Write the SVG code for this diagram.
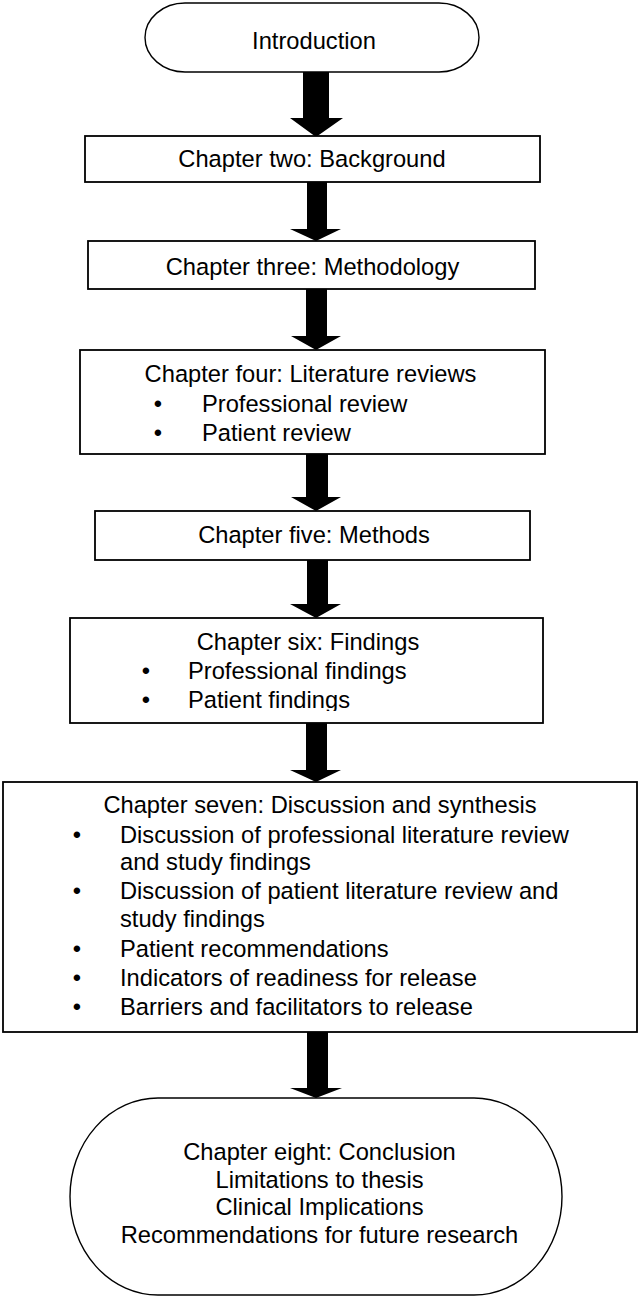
<svg xmlns="http://www.w3.org/2000/svg" width="639" height="1297" viewBox="0 0 639 1297">
  <style>
    .box { fill: #ffffff; stroke: #000000; stroke-width: 1.8; }
    .pill { fill: #ffffff; stroke: #000000; stroke-width: 1.4; }
    .t { font-family: "Liberation Sans", Arial, sans-serif; font-size: 23.7px; fill: #000000; }
    .c { text-anchor: middle; }
    .arrow { fill: #000000; stroke: none; }
  </style>
  <defs>
    <clipPath id="clip-six">
      <rect x="70" y="618" width="473" height="93"/>
    </clipPath>
  </defs>
  <rect width="639" height="1297" fill="#ffffff"/>

  <!-- block arrows between chapters -->
  <g id="connectors">
    <polygon class="arrow" points="303,72 329,72 329,118 343,118 316,137 290,118 303,118"/>
    <polygon class="arrow" points="307,182 327,182 327,229 341,229 316,241 290,229 307,229"/>
    <polygon class="arrow" points="306,289 327,289 327,336 341,336 316,350 291,336 306,336"/>
    <polygon class="arrow" points="306,454 328,454 328,497 341,497 316,511 291,497 306,497"/>
    <polygon class="arrow" points="307,560 328,560 328,604 341,604 316,618 290,604 307,604"/>
    <polygon class="arrow" points="306,723 327,723 327,770 341,770 316,782 290,770 306,770"/>
    <polygon class="arrow" points="307,1032 328,1032 328,1088 342,1088 316,1098 290,1088 307,1088"/>
  </g>

  <g id="introduction">
    <rect class="pill" x="145" y="3" width="334" height="69" rx="40" ry="34.5"/>
    <text class="t c" x="314" y="49">Introduction</text>
  </g>

  <g id="chapter-two">
    <rect class="box" x="85" y="136" width="455" height="46"/>
    <text class="t c" x="312" y="167">Chapter two: Background</text>
  </g>

  <g id="chapter-three">
    <rect class="box" x="88" y="241" width="447" height="48"/>
    <text class="t c" x="312.5" y="275">Chapter three: Methodology</text>
  </g>

  <g id="chapter-four">
    <rect class="box" x="80" y="350" width="465" height="104"/>
    <text class="t c" x="310.5" y="382">Chapter four: Literature reviews</text>
    <text class="t c" x="158" y="412">•</text>
    <text class="t" x="202" y="412">Professional review</text>
    <text class="t c" x="158" y="441">•</text>
    <text class="t" x="202" y="441">Patient review</text>
  </g>

  <g id="chapter-five">
    <rect class="box" x="95" y="511" width="435" height="49"/>
    <text class="t c" x="314" y="543">Chapter five: Methods</text>
  </g>

  <g id="chapter-six">
    <rect class="box" x="70" y="618" width="473" height="105"/>
    <g clip-path="url(#clip-six)">
      <text class="t c" x="308" y="650">Chapter six: Findings</text>
      <text class="t c" x="146" y="679">•</text>
      <text class="t" x="188" y="679">Professional findings</text>
      <text class="t c" x="146" y="708">•</text>
      <text class="t" x="188" y="708">Patient findings</text>
    </g>
  </g>

  <g id="chapter-seven">
    <rect class="box" x="3" y="782" width="634" height="250"/>
    <text class="t c" x="320" y="813">Chapter seven: Discussion and synthesis</text>
    <text class="t c" x="77" y="843">•</text>
    <text class="t" x="120" y="843">Discussion of professional literature review</text>
    <text class="t" x="120" y="870">and study findings</text>
    <text class="t c" x="77" y="899">•</text>
    <text class="t" x="120" y="899">Discussion of patient literature review and</text>
    <text class="t" x="120" y="927">study findings</text>
    <text class="t c" x="77" y="957">•</text>
    <text class="t" x="120" y="957">Patient recommendations</text>
    <text class="t c" x="77" y="986">•</text>
    <text class="t" x="120" y="986">Indicators of readiness for release</text>
    <text class="t c" x="77" y="1015">•</text>
    <text class="t" x="120" y="1015">Barriers and facilitators to release</text>
  </g>

  <g id="chapter-eight">
    <rect class="pill" x="70" y="1098" width="492" height="197" rx="88" ry="98.5"/>
    <text class="t c" x="319.5" y="1160">Chapter eight: Conclusion</text>
    <text class="t c" x="319.5" y="1188">Limitations to thesis</text>
    <text class="t c" x="319.5" y="1215">Clinical Implications</text>
    <text class="t c" x="319.5" y="1243">Recommendations for future research</text>
  </g>
</svg>
